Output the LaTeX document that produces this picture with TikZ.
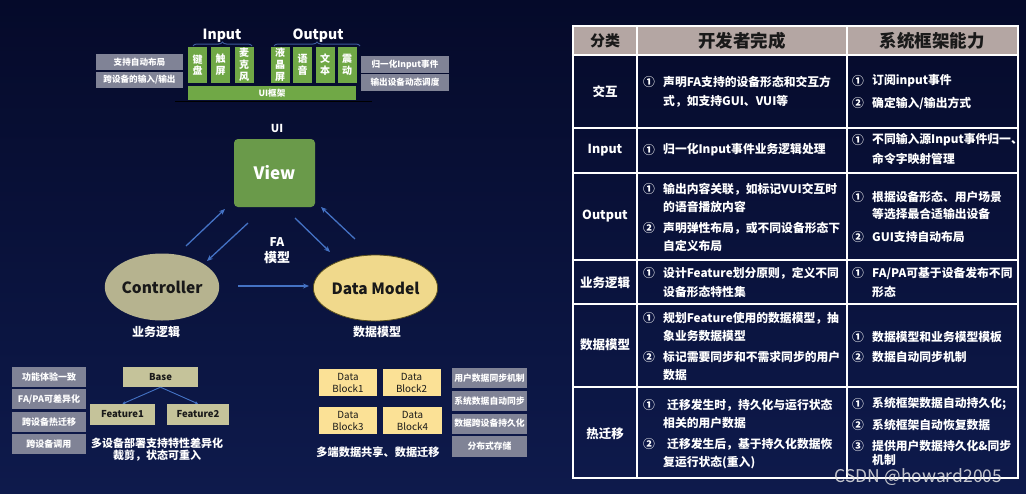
\documentclass[tikz,border=0pt]{standalone}
\usepackage{fontspec}
\setmainfont{Noto Sans CJK SC}
\usetikzlibrary{decorations.pathreplacing,arrows.meta,shapes.geometric}
\definecolor{bgtop}{RGB}{5,10,42}
\definecolor{bgbot}{RGB}{14,26,76}
\definecolor{grayb}{RGB}{128,131,150}
\definecolor{greenb}{RGB}{112,168,70}
\definecolor{viewg}{RGB}{106,154,74}
\definecolor{ctrlc}{RGB}{182,179,143}
\definecolor{dmc}{RGB}{240,217,140}
\definecolor{dmline}{RGB}{90,80,30}
\definecolor{khaki}{RGB}{197,195,154}
\definecolor{blockc}{RGB}{251,225,150}
\definecolor{hdr}{RGB}{180,166,163}
\definecolor{arrc}{RGB}{68,114,196}
\definecolor{bracec}{RGB}{60,90,155}
\definecolor{darktxt}{RGB}{25,25,25}
\newcommand\fsz[1]{\fontsize{#1}{#1}\selectfont}
\newcounter{tcn}
\newcommand\tline[3]{\stepcounter{tcn}\node[tt, anchor=west] (tl\arabic{tcn}) at (#1,#2) {#3};}
\newcommand\tnum[3]{\stepcounter{tcn}\node[tt] (tn\arabic{tcn}) at (#1,#2) {#3};}
\tikzset{
  gb/.style={fill=grayb, text=white, font=\bfseries\fsz{8.6}, inner sep=0},
  gv/.style={fill=greenb, text=white, font=\bfseries\fontsize{10}{11.8}\selectfont, inner sep=0, align=center, minimum width=19, minimum height=36},
  wt/.style={text=white, font=\bfseries\fsz{12}, inner sep=0, align=center},
  tt/.style={text=white, font=\bfseries\fsz{11.8}, inner sep=0},
  arr/.style={arrc, line width=1.3, -{Stealth[length=6pt,width=5pt]}},
  kbox/.style={fill=khaki, text=darktxt, font=\bfseries\fsz{9.5}, inner sep=0},
  dbox/.style={fill=blockc, text=darktxt, font=\fontsize{9.8}{12}\selectfont, inner sep=0, align=center, minimum width=58, minimum height=27},
}
\begin{document}
\begin{tikzpicture}[x=1pt,y=-1pt]
\useasboundingbox (0,0) rectangle (1026,493);
\shade[top color=bgtop, bottom color=bgbot] (0,0) rectangle (1026,493);

% ---------- top: input / output ----------
\node[wt, font=\bfseries\fsz{14}] (inlab) at (222,36) {Input};
\node[wt, font=\bfseries\fsz{14}] (outlab) at (318,36) {Output};
\draw[bracec, line width=1, decorate, decoration={brace, amplitude=4}] (193,46) -- (252,46);
\draw[bracec, line width=1, decorate, decoration={brace, amplitude=4}] (274,46) -- (360,46);

\node[gv] (k1) at (197.5,65) {键\\盘};
\node[gv] (k2) at (220.5,65) {触\\屏};
\node[gv] (k3) at (244,65) {麦\\克\\风};
\node[gv] (k4) at (280,65) {液\\晶\\屏};
\node[gv] (k5) at (302.5,65) {语\\音};
\node[gv] (k6) at (325,65) {文\\本};
\node[gv] (k7) at (347,65) {震\\动};
\node[gv, font=\bfseries\fsz{8.6}, minimum width=168, minimum height=14] (uif) at (272,93) {UI框架};
\draw[black, line width=1] (175,101.5) -- (372,101.5);

\node[gb, minimum width=87, minimum height=16] (l1) at (139.5,62) {支持自动布局};
\node[gb, minimum width=87, minimum height=16] (l2) at (139.5,80) {跨设备的输入/输出};
\node[gb, minimum width=88, minimum height=17] (r1) at (405,64.5) {归一化Input事件};
\node[gb, minimum width=88, minimum height=17] (r2) at (405,82.5) {输出设备动态调度};

% ---------- FA model ----------
\node[wt, font=\bfseries\fsz{11}] (uil) at (277,128) {UI};
\node[fill=viewg, rounded corners=4, minimum width=81, minimum height=68, text=white, font=\bfseries\fsz{17}] (view) at (274.5,173) {View};
\node[ellipse, fill=ctrlc, minimum width=102, minimum height=67, inner sep=0, text=darktxt, font=\bfseries\fsz{15.5}] (ctrl) at (162,287) {Controller};
\node[ellipse, fill=dmc, draw=dmline, line width=0.8, minimum width=105, minimum height=66, inner sep=0, text=darktxt, font=\bfseries\fsz{15.5}] (dm) at (375.5,288) {Data Model};
\node[wt, font=\bfseries\fsz{12}] (fa) at (277,242) {FA};
\node[wt, font=\bfseries\fsz{13}] (famod) at (277,258) {模型};
\node[wt] (ywlj) at (156,332) {业务逻辑};
\node[wt] (sjmx) at (377,332) {数据模型};

\draw[arr] ([shift={(24,-41)}]ctrl.center) -- ([shift={(-49.5,36)}]view.center);
\draw[arr] ([shift={(-26.5,50)}]view.center) -- ([shift={(45,-26)}]ctrl.center);
\draw[arr] ([shift={(20.5,45)}]view.center) -- ([shift={(-45.5,-36)}]dm.center);
\draw[arr] ([shift={(-20.5,-49)}]dm.center) -- ([shift={(46.5,34)}]view.center);
\draw[arr] ([shift={(76,-1)}]ctrl.center) -- ([shift={(-66.5,-2)}]dm.center);

% ---------- bottom left ----------
\node[gb, font=\bfseries\fsz{9}, minimum width=74, minimum height=20] (bl1) at (49,377) {功能体验一致};
\node[gb, font=\bfseries\fsz{9}, minimum width=74, minimum height=20] (bl2) at (49,399) {FA/PA可差异化};
\node[gb, font=\bfseries\fsz{9}, minimum width=74, minimum height=20] (bl3) at (49,422) {跨设备热迁移};
\node[gb, font=\bfseries\fsz{9}, minimum width=74, minimum height=20] (bl4) at (49,444) {跨设备调用};
\node[kbox, minimum width=75, minimum height=20] (base) at (160.5,377) {Base};
\node[kbox, minimum width=65, minimum height=21] (f1) at (122.5,414.5) {Feature1};
\node[kbox, minimum width=62, minimum height=21] (f2) at (198,414.5) {Feature2};
\draw[arrc, line width=0.9, -{Stealth[length=3pt,width=3pt]}] (base.south) -- (f1.north);
\draw[arrc, line width=0.9, -{Stealth[length=3pt,width=3pt]}] (base.south) -- (f2.north);
\node[wt, font=\bfseries\fontsize{11}{12.5}\selectfont] (featxt) at (157,449.5) {多设备部署支持特性差异化\\裁剪，状态可重入};

% ---------- bottom middle ----------
\node[dbox] (db1) at (348,382.5) {Data\\Block1};
\node[dbox] (db2) at (411.5,382.5) {Data\\Block2};
\node[dbox] (db3) at (348,420.5) {Data\\Block3};
\node[dbox, minimum width=59] (db4) at (412.5,420.5) {Data\\Block4};
\node[gb, font=\bfseries\fsz{8.8}, minimum width=75, minimum height=20] (bm1) at (489.5,378) {用户数据同步机制};
\node[gb, font=\bfseries\fsz{8.8}, minimum width=75, minimum height=20] (bm2) at (489.5,401) {系统数据自动同步};
\node[gb, font=\bfseries\fsz{8.8}, minimum width=75, minimum height=20] (bm3) at (489.5,423.5) {数据跨设备持久化};
\node[gb, font=\bfseries\fsz{8.8}, minimum width=75, minimum height=21] (bm4) at (489.5,446.5) {分布式存储};
\node[wt, font=\bfseries\fsz{11.2}] (dbtxt) at (378,452) {多端数据共享、数据迁移};

% ---------- table ----------
\fill[hdr] (573,26) rectangle (1018,55);
\draw[white, line width=1.1] (573,26) rectangle (1018,478);
\draw[white, line width=1.1] (637,26) -- (637,478);
\draw[white, line width=1.1] (847,26) -- (847,478);
\foreach \yy in {55,128,173,260,304,387} {\draw[white, line width=1.1] (573,\yy) -- (1018,\yy);}

\node[text=darktxt, font=\bfseries\fsz{15}, inner sep=0] (h1) at (605,41) {分类};
\node[text=darktxt, font=\bfseries\fsz{17.5}, inner sep=0] (h2) at (742,41) {开发者完成};
\node[text=darktxt, font=\bfseries\fsz{17.5}, inner sep=0] (h3) at (932,41) {系统框架能力};

\node[tt, font=\bfseries\fsz{12.5}] (c1) at (605,92) {交互};
\node[tt, font=\bfseries\fsz{12.5}] (c2) at (605,150.5) {Input};
\node[tt, font=\bfseries\fsz{12.5}] (c3) at (605,216) {Output};
\node[tt, font=\bfseries\fsz{12.5}] (c4) at (605,283) {业务逻辑};
\node[tt, font=\bfseries\fsz{12.5}] (c5) at (605,345) {数据模型};
\node[tt, font=\bfseries\fsz{12.5}] (c6) at (605,434) {热迁移};

% row 交互
\tnum{649}{82}{①}\tline{663}{82}{声明FA支持的设备形态和交互方}
\tline{663}{101}{式，如支持GUI、VUI等}
\tnum{858}{81}{①}\tline{872}{81}{订阅input事件}
\tnum{858}{103}{②}\tline{872}{103}{确定输入/输出方式}
% row Input
\tnum{649}{150}{①}\tline{663}{150}{归一化Input事件业务逻辑处理}
\tnum{858}{140}{①}\tline{872}{140}{不同输入源Input事件归一、}
\tline{872}{159}{命令字映射管理}
% row Output
\tnum{649}{189}{①}\tline{663}{189}{输出内容关联，如标记VUI交互时}
\tline{663}{207}{的语音播放内容}
\tnum{649}{228}{②}\tline{663}{228}{声明弹性布局，或不同设备形态下}
\tline{663}{246}{自定义布局}
\tnum{858}{197}{①}\tline{872}{197}{根据设备形态、用户场景}
\tline{872}{214}{等选择最合适输出设备}
\tnum{858}{237}{②}\tline{872}{237}{GUI支持自动布局}
% row 业务逻辑
\tnum{649}{273}{①}\tline{663}{273}{设计Feature划分原则，定义不同}
\tline{663}{292}{设备形态特性集}
\tnum{858}{273}{①}\tline{872}{273}{FA/PA可基于设备发布不同}
\tline{872}{292}{形态}
% row 数据模型
\tnum{649}{318}{①}\tline{663}{318}{规划Feature使用的数据模型，抽}
\tline{663}{336}{象业务数据模型}
\tnum{649}{357}{②}\tline{663}{357}{标记需要同步和不需求同步的用户}
\tline{663}{375}{数据}
\tnum{858}{337}{①}\tline{872}{337}{数据模型和业务模型模板}
\tnum{858}{357}{②}\tline{872}{357}{数据自动同步机制}
% row 热迁移
\tnum{649}{405}{①}\tline{667}{405}{迁移发生时，持久化与运行状态}
\tline{663}{423}{相关的用户数据}
\tnum{649}{444}{②}\tline{667}{444}{迁移发生后，基于持久化数据恢}
\tline{663}{463}{复运行状态(重入)}
\tnum{858}{404}{①}\tline{872}{404}{系统框架数据自动持久化;}
\tnum{858}{425}{②}\tline{872}{425}{系统框架自动恢复数据}
\tnum{858}{446}{③}\tline{872}{446}{提供用户数据持久化\&同步}
\tline{872}{460}{机制}

\node[text=white!78!gray, opacity=0.85, font=\fsz{17.5}, inner sep=0] (wm) at (918.5,477) {CSDN @howard2005};
\end{tikzpicture}
\end{document}
